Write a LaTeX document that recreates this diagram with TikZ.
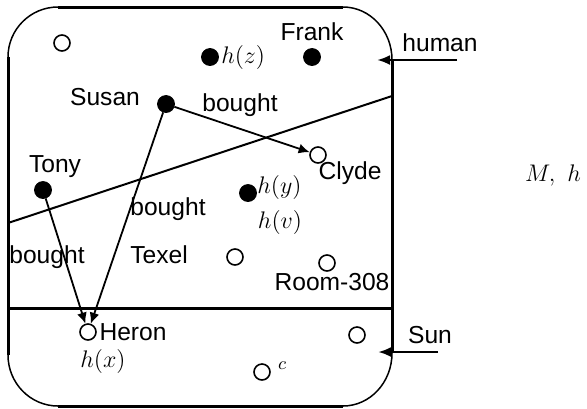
\documentclass[tikz,border=0pt]{standalone}
\usepackage[no-math]{fontspec}
\newfontfamily\helv{Liberation Sans}
\usetikzlibrary{positioning,arrows.meta}
\tikzset{
  ind/.style={draw, circle, fill=black, minimum size=8.5pt, inner sep=0pt},
  obj/.style={draw, circle, line width=0.8pt, fill=white, minimum size=8pt, inner sep=0pt},
  lbl/.style={font=\helv\fontsize{12.3}{14}\selectfont, inner sep=1pt},
  mth/.style={font=\fontsize{12.3}{14}\selectfont, inner sep=1pt},
  rel/.style={-{Latex[length=5.5pt,width=5pt]}, line width=0.9pt},
  ext/.style={-{Latex[length=6.5pt,width=5pt]}, line width=1.3pt},
  side/.style={line width=1.5pt},
  corner/.style={line width=0.75pt}
}

\begin{document}
\begin{tikzpicture}[x=0.5pt, y=-0.5pt]
  \useasboundingbox (0,0) rectangle (587,408);

  % the domain: thick straight sides, thin round corners
  \draw[side] (58,7) -- (343,7);
  \draw[side] (392,60) -- (392,353);
  \draw[side] (58,406) -- (343,406);
  \draw[side] (8,57) -- (8,355);
  \draw[corner] (8,57) .. controls (8,29.4) and (30.4,7) .. (58,7);
  \draw[corner] (343,7) .. controls (370.1,7) and (392,30.7) .. (392,60);
  \draw[corner] (392,353) .. controls (392,382.3) and (370.1,406) .. (343,406);
  \draw[corner] (58,406) .. controls (30.4,406) and (8,383.2) .. (8,355);

  % split of the domain
  \coordinate (cutl) at (8,223);
  \coordinate (cutr) at (392,96);
  \coordinate (sepl) at (8,308);
  \coordinate (sepr) at (392,308);
  \draw[line width=1pt] (cutl) -- (cutr);
  \draw[side] (sepl) -- (sepr);

  % elements
  \node[obj] (o1) at (62,43) {};
  \node[ind] (z) at (210,57) {};
  \node[ind] (frank) at (312,57) {};
  \node[ind] (susan) at (166,104) {};
  \node[obj] (clyde) at (318,155) {};
  \node[ind] (tony) at (43,190) {};
  \node[ind] (y) at (248,193) {};
  \node[obj] (texel) at (235,257) {};
  \node[obj] (room) at (327,263) {};
  \node[obj] (heron) at (88,332) {};
  \node[obj] (o2) at (357,335) {};
  \node[obj] (c) at (262,372) {};

  % names
  \node[lbl] (lfrank) at (312,32) {Frank};
  \node[lbl] (lsusan) at (105,97) {Susan};
  \node[lbl] (ltony) at (55,167) {Tony};
  \node[lbl] (lclyde) at (350,173) {Clyde};
  \node[lbl] (ltexel) at (159,255) {Texel};
  \node[lbl] (lroom) at (332,282) {Room-308};
  \node[lbl] (lheron) at (133,332) {Heron};
  \node[mth, right=0pt of z] (hz) {$h(z)$};
  \node[mth, anchor=west] (hy) at (255,187) {$h(y)$};
  \node[mth] (hv) at (280,222) {$h(v)$};
  \node[mth] (hx) at (103,361) {$h(x)$};
  \node[font=\fontsize{9}{10}\selectfont, inner sep=0pt] (lc) at (282,366) {$c$};
  \node[mth] (mh) at (553,175) {$M,\ h$};

  % bought
  \node[lbl] (b1) at (240,105) {bought};
  \node[lbl] (b2) at (168,209) {bought};
  \node[lbl] (b3) at (47,257) {bought};
  \draw[rel] (susan) -- (clyde);
  \draw[rel] (susan) -- (heron);
  \draw[rel] (tony) -- (heron);

  % sorts
  \coordinate (hum) at (457,60);
  \coordinate (humt) at (377,60);
  \coordinate (sun) at (438,352);
  \coordinate (sunt) at (378,352);
  \node[lbl] (lhum) at (440,43) {human};
  \node[lbl] (lsun) at (430,335) {Sun};
  \draw[ext] (hum) -- (humt);
  \draw[ext] (sun) -- (sunt);
\end{tikzpicture}
\end{document}
